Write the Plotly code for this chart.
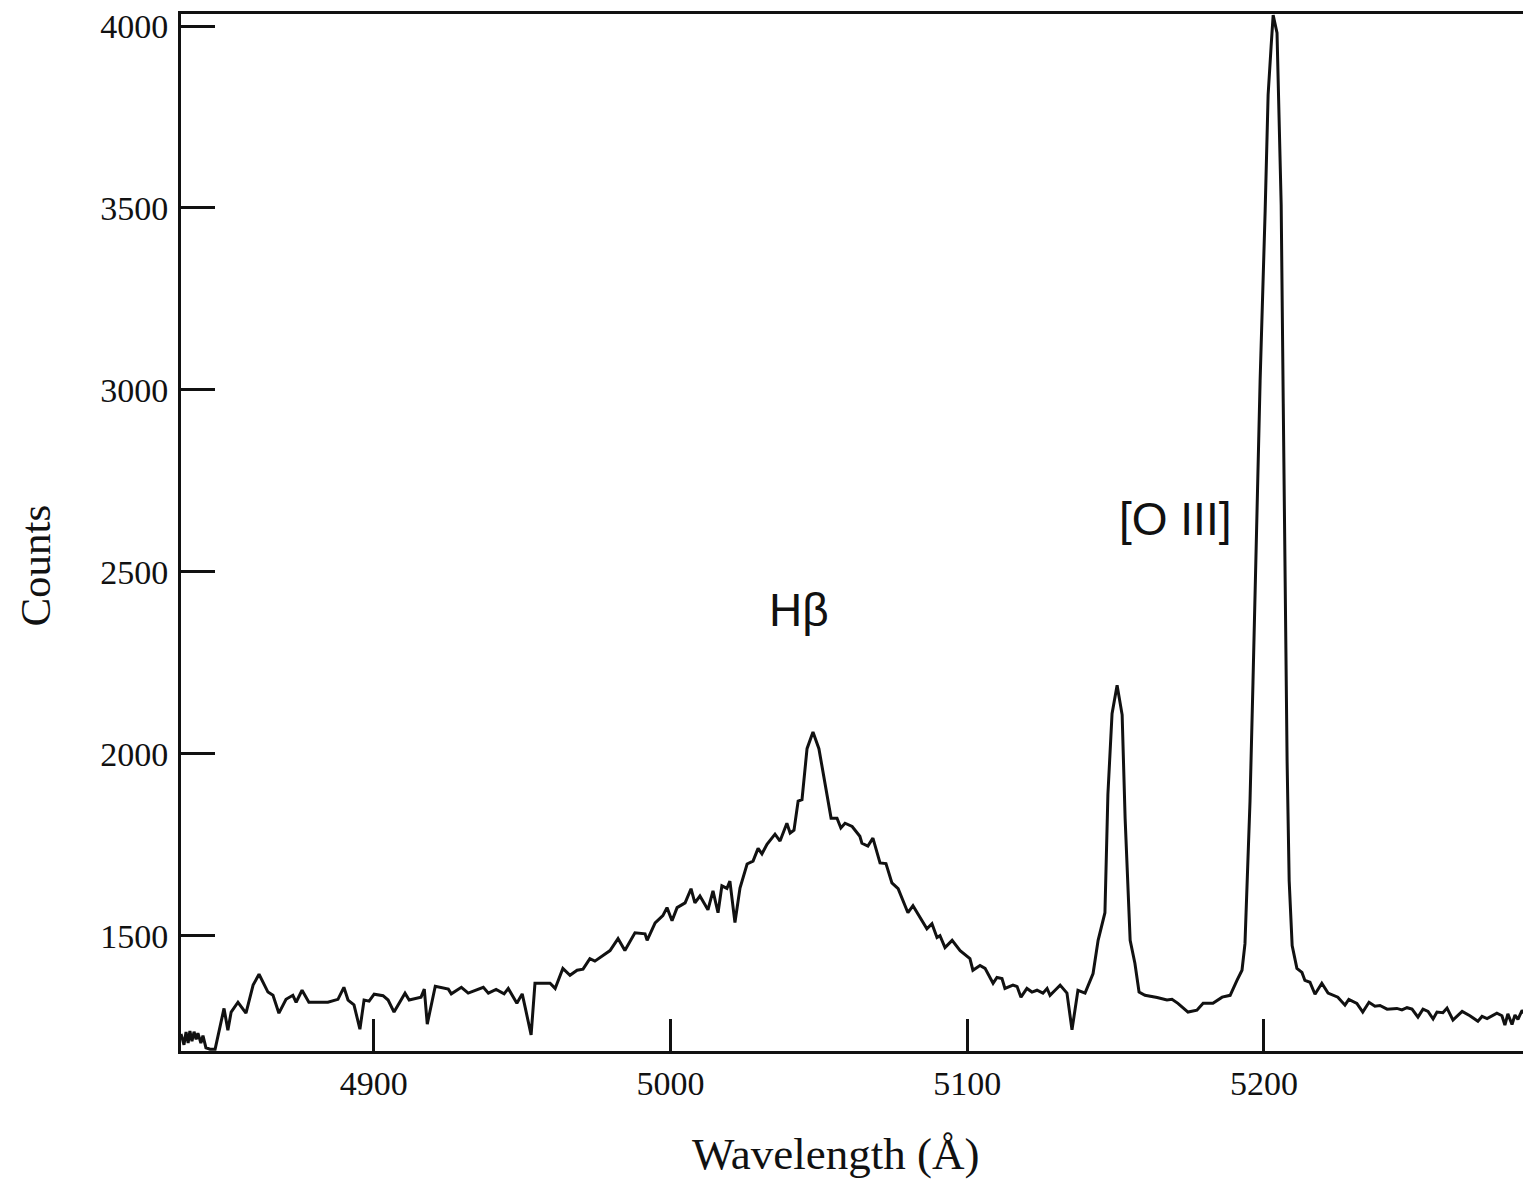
import plotly.graph_objects as go

# Wavelength (Angstrom) and counts
wavelength = [
    4835.0, 4836.0, 4836.7, 4837.4, 4838.0, 4838.7, 4839.4, 4840.1, 4840.7, 4841.7,
    4842.4, 4843.4, 4844.8, 4846.5, 4849.5, 4850.8, 4851.9, 4854.2, 4856.9, 4859.3,
    4861.3, 4864.3, 4866.0, 4868.0, 4870.4, 4872.7, 4873.8, 4875.8, 4878.1, 4884.5,
    4887.9, 4889.9, 4891.3, 4893.3, 4895.3, 4896.7, 4898.4, 4900.1, 4903.1, 4904.8,
    4906.8, 4909.2, 4910.5, 4911.9, 4915.9, 4917.0, 4918.0, 4920.7, 4925.1, 4926.1,
    4929.5, 4931.8, 4936.9, 4938.6, 4941.2, 4943.9, 4945.3, 4948.2, 4950.0, 4951.0,
    4953.0, 4954.3, 4959.4, 4961.1, 4963.7, 4966.1, 4968.5, 4970.5, 4972.8, 4974.5,
    4977.2, 4979.6, 4982.3, 4984.6, 4988.0, 4991.4, 4992.1, 4994.8, 4997.4, 4998.8,
    5000.5, 5002.2, 5004.9, 5006.9, 5008.2, 5009.9, 5012.6, 5014.3, 5016.0, 5017.3,
    5019.0, 5020.0, 5021.7, 5023.4, 5025.8, 5027.8, 5029.5, 5030.8, 5032.5, 5035.2,
    5036.9, 5039.2, 5040.3, 5041.6, 5043.0, 5044.3, 5046.0, 5048.0, 5050.0, 5052.1,
    5054.1, 5056.1, 5057.4, 5058.8, 5061.2, 5063.8, 5064.5, 5066.5, 5068.2, 5070.6,
    5072.6, 5074.6, 5076.7, 5080.0, 5081.7, 5086.4, 5088.1, 5089.8, 5090.8, 5092.5,
    5094.9, 5097.6, 5100.9, 5101.9, 5104.3, 5106.0, 5108.7, 5110.0, 5111.7, 5112.7,
    5115.4, 5116.8, 5118.1, 5120.1, 5121.8, 5123.5, 5125.5, 5126.9, 5127.9, 5129.6,
    5131.3, 5133.6, 5135.3, 5137.3, 5139.7, 5142.4, 5144.1, 5146.4, 5147.4, 5148.8,
    5150.5, 5152.2, 5153.2, 5154.9, 5156.5, 5157.9, 5159.9, 5164.0, 5167.3, 5169.0,
    5171.0, 5174.4, 5177.4, 5179.5, 5182.8, 5185.9, 5188.6, 5190.9, 5192.6, 5193.6,
    5194.3, 5195.3, 5196.3, 5197.3, 5198.7, 5200.4, 5201.4, 5202.4, 5203.1, 5204.4,
    5205.1, 5205.8, 5206.5, 5207.2, 5207.8, 5208.5, 5209.5, 5211.1, 5212.8, 5213.8,
    5215.5, 5217.2, 5219.5, 5221.6, 5224.9, 5227.3, 5228.6, 5231.3, 5233.3, 5235.4,
    5237.4, 5239.1, 5241.5, 5244.8, 5246.5, 5248.2, 5249.9, 5251.9, 5253.6, 5255.3,
    5257.0, 5258.3, 5260.3, 5261.7, 5263.7, 5266.8, 5269.4, 5272.1, 5273.5, 5275.2,
    5278.5, 5280.2, 5281.2, 5282.2, 5283.6, 5284.6, 5285.6, 5287.0, 5288.6, 5290.0,
]

counts = [
    1230, 1200, 1235, 1205, 1238, 1210, 1236, 1215, 1232, 1205,
    1225, 1192, 1188, 1188, 1300, 1240, 1290, 1317, 1287, 1364,
    1394, 1345, 1336, 1287, 1325, 1336, 1317, 1350, 1317, 1317,
    1325, 1358, 1323, 1310, 1243, 1323, 1320, 1339, 1335, 1323,
    1290, 1323, 1342, 1323, 1331, 1353, 1257, 1361, 1353, 1340,
    1358, 1342, 1358, 1342, 1352, 1340, 1355, 1314, 1340, 1303,
    1227, 1369, 1369, 1355, 1410, 1391, 1405, 1408, 1437, 1430,
    1446, 1459, 1492, 1459, 1508, 1505, 1487, 1535, 1555, 1577,
    1541, 1577, 1590, 1629, 1590, 1609, 1571, 1623, 1563, 1637,
    1630, 1650, 1536, 1631, 1697, 1705, 1740, 1725, 1751, 1779,
    1760, 1809, 1782, 1790, 1870, 1874, 2014, 2060, 2014, 1915,
    1823, 1823, 1796, 1809, 1800, 1773, 1754, 1746, 1768, 1700,
    1698, 1645, 1629, 1563, 1582, 1519, 1533, 1495, 1500, 1467,
    1487, 1459, 1437, 1405, 1418, 1410, 1369, 1385, 1382, 1355,
    1364, 1360, 1331, 1355, 1345, 1350, 1342, 1355, 1336, 1350,
    1364, 1342, 1241, 1350, 1342, 1396, 1487, 1563, 1888, 2110,
    2188, 2107, 1823, 1487, 1424, 1345, 1336, 1330, 1323, 1325,
    1314, 1290, 1295, 1314, 1314, 1331, 1336, 1377, 1405, 1478,
    1623, 1870, 2197, 2525, 3025, 3492, 3811, 3943, 4030, 3981,
    3754, 3508, 2962, 2415, 1978, 1650, 1473, 1410, 1399, 1377,
    1372, 1339, 1369, 1342, 1331, 1309, 1325, 1314, 1290, 1317,
    1306, 1308, 1298, 1300, 1296, 1302, 1298, 1276, 1298, 1292,
    1271, 1290, 1288, 1301, 1268, 1292, 1280, 1265, 1278, 1272,
    1287, 1280, 1254, 1285, 1256, 1282, 1270, 1295, 1276, 1274,
]

x_ticks = [4900, 5000, 5100, 5200]
y_ticks = [1500, 2000, 2500, 3000, 3500, 4000]

line_labels = ["H\u03b2", "[O III]"]
label_x = [5043.3, 5170.0]
label_y = [2394, 2645]

x_range = [4835, 5290]
y_range = [1183, 4033]

serif = "Liberation Serif, Times New Roman, serif"
sans = "Liberation Sans, Arial, sans-serif"
ink = "#111111"

fig = go.Figure()
fig.add_trace(go.Scatter(
    x=wavelength, y=counts, mode="lines",
    line=dict(color=ink, width=3),
    showlegend=False, hoverinfo="x+y",
))

for txt, lx, ly in zip(line_labels, label_x, label_y):
    fig.add_annotation(x=lx, y=ly, xref="x", yref="y", text=txt, showarrow=False,
                       xanchor="center", yanchor="middle",
                       font=dict(family=sans, size=46, color=ink))

fig.add_annotation(x=0.485, y=-0.0998, xref="paper", yref="paper",
                   text="Wavelength (Å)", showarrow=False,
                   xanchor="center", yanchor="middle",
                   font=dict(family=serif, size=45, color=ink))
fig.add_annotation(x=-0.1075, y=0.468, xref="paper", yref="paper",
                   text="Counts", showarrow=False, textangle=-90,
                   xanchor="center", yanchor="middle",
                   font=dict(family=serif, size=43, color=ink))

fig.update_xaxes(
    range=x_range, tickvals=x_ticks, ticktext=[str(v) for v in x_ticks],
    ticks="inside", ticklen=32, tickwidth=2.5, tickcolor=ink,
    showline=True, linewidth=2.8, linecolor=ink, mirror=True,
    showgrid=False, zeroline=False, ticklabeloverflow="allow",
    tickfont=dict(family=serif, size=34, color=ink),
)
fig.update_yaxes(
    range=y_range, tickvals=y_ticks, ticktext=[str(v) for v in y_ticks],
    ticks="inside", ticklen=34, tickwidth=2.5, tickcolor=ink,
    showline=True, linewidth=2.8, linecolor=ink, mirror=False,
    showgrid=False, zeroline=False, ticklabelstandoff=3,
    ticklabeloverflow="allow",
    tickfont=dict(family=serif, size=34, color=ink),
)

# the browser page adds an 8px body margin, so the figure is sized to fit
fig.update_layout(
    width=1523, height=1179,
    margin=dict(l=173, r=0, t=1, b=136),
    plot_bgcolor="white", paper_bgcolor="white",
)

fig.write_html("out.html")
